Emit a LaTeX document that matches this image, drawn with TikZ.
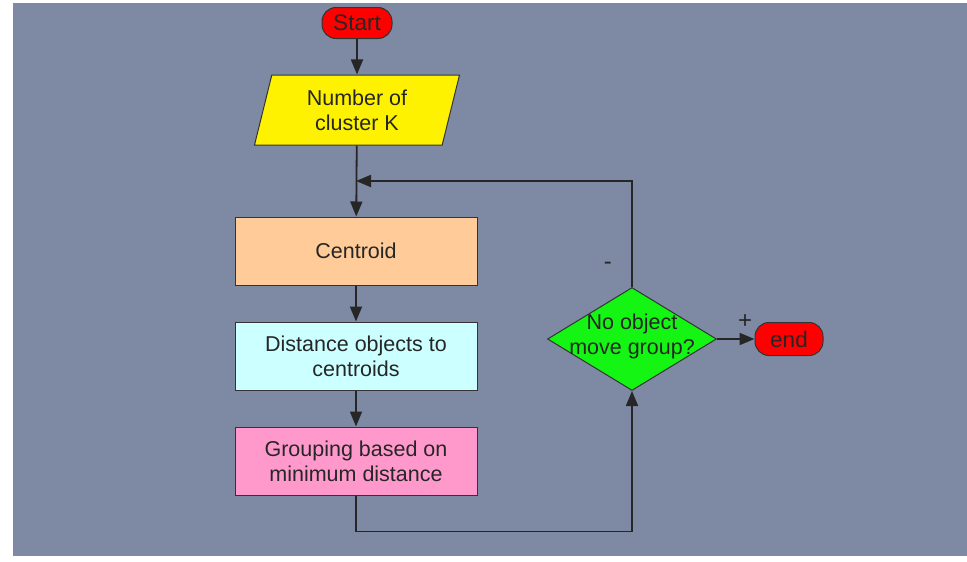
\documentclass[tikz,border=0pt]{standalone}
\usepackage{fontspec}
\setmainfont{Liberation Sans}
\usetikzlibrary{shapes.geometric,arrows.meta,positioning}
\definecolor{bgblue}{RGB}{126,138,163}
\definecolor{peach}{RGB}{255,204,153}
\definecolor{palecyan}{RGB}{204,255,255}
\definecolor{pinkbox}{RGB}{255,153,204}
\definecolor{brightgreen}{RGB}{20,245,20}
\begin{document}
\begin{tikzpicture}[x=1pt,y=-1pt,
  every node/.style={font=\fontsize{21.5}{25}\selectfont,text=black!85},
  terminal/.style={draw=black!80,line width=1pt,fill=red,rounded corners=14pt,minimum width=70pt,minimum height=31pt,inner sep=0pt,font=\fontsize{22.5}{26}\selectfont},
  inputbox/.style={trapezium,trapezium left angle=67,trapezium right angle=113,trapezium stretches body,draw=black!80,line width=1pt,fill=yellow,minimum width=205pt,minimum height=70pt,inner sep=0pt,align=center},
  procbox/.style={draw=black!80,line width=1pt,minimum width=242pt,minimum height=68pt,inner sep=0pt,align=center},
  decision/.style={diamond,draw=black!80,line width=1pt,fill=brightgreen,minimum width=169pt,minimum height=103pt,inner sep=0pt},
  flow/.style={line width=1.8pt,draw=black!85,-{Triangle[length=15pt,width=12pt]}},
  link/.style={line width=1.8pt,draw=black!85}]
  \useasboundingbox (0,0) rectangle (967,562);
  \fill[bgblue] (13,3) rectangle (967,556);
  % main column
  \node[terminal] (start) at (357,23) {Start};
  \node[inputbox] (input) at (357,110) {Number of\\cluster K};
  \node[procbox,fill=peach] (centroid) at (356,251) {Centroid};
  \node[procbox,fill=palecyan] (distance) at (356,356) {Distance objects to\\centroids};
  \node[procbox,fill=pinkbox] (grouping) at (356,461) {Grouping based on\\minimum distance};
  % test and stop
  \node[decision] (decision) at (632,339) {};
  \node[align=center] (question) at ([yshift=3]decision) {No object\\move group?};
  \node[terminal,minimum width=68pt,minimum height=33pt] (stop) at (789,339) {end};
  \coordinate (join) at (356,181);
  \draw[flow] (start) -- (input);
  \draw[flow] (input) -- (centroid);
  \draw[flow] (centroid) -- (distance);
  \draw[flow] (distance) -- (grouping);
  \draw[flow] (grouping.south) -- ++(0,36) -| (decision.south);
  \draw[flow] (decision.north) |- node[pos=0.1,left=16pt,font=\fontsize{24}{26}\selectfont] {-} (join);
  \draw[flow] (decision.east) -- node[pos=0.75,above=6pt,font=\fontsize{24}{26}\selectfont] {+} (stop.west);
\end{tikzpicture}
\end{document}
